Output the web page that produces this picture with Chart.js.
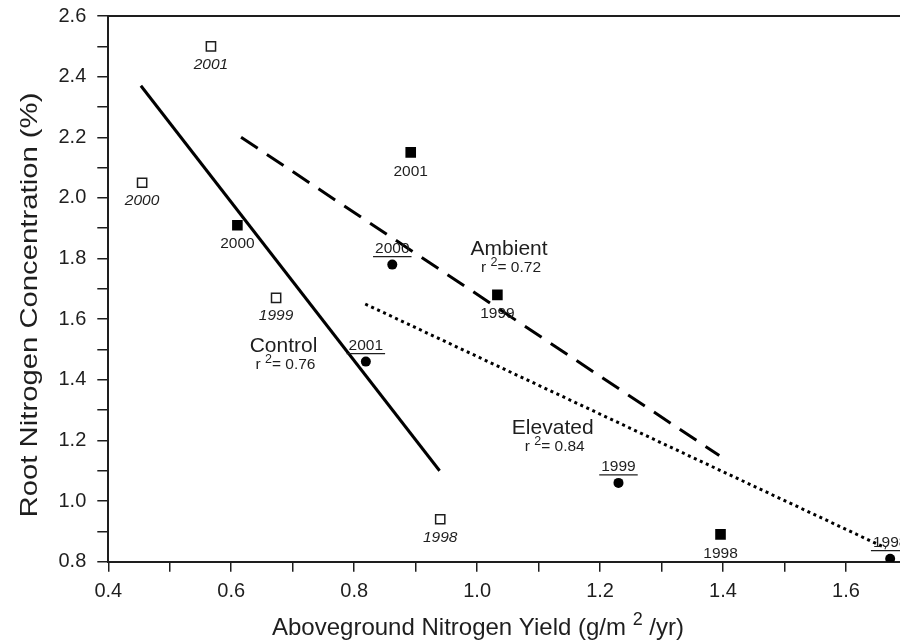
<!DOCTYPE html>
<html>
<head>
<meta charset="utf-8">
<script src="https://cdn.jsdelivr.net/npm/chart.js@4.4.0/dist/chart.umd.min.js"></script>
<style>
  html, body { margin: 0; padding: 0; background: #fff; }
  #wrap { width: 900px; height: 643px; }
</style>
</head>
<body>
<div id="wrap"><canvas id="nChart"></canvas></div>
<script>
/* ---------- data ---------- */
const years = ['1998', '1999', '2000', '2001'];

const controlX  = [0.940, 0.673, 0.455, 0.567];
const controlY  = [0.94, 1.67, 2.05, 2.50];
const ambientX  = [1.396, 1.033, 0.610, 0.892];
const ambientY  = [0.89, 1.68, 1.91, 2.15];
const elevatedX = [1.672, 1.230, 0.862, 0.819];
const elevatedY = [0.81, 1.06, 1.78, 1.46];

// regression lines (end points)
const controlFitX  = [0.453, 0.939];
const controlFitY  = [2.37, 1.10];
const ambientFitX  = [0.616, 1.394];
const ambientFitY  = [2.20, 1.15];
const elevatedFitX = [0.818, 1.665];
const elevatedFitY = [1.65, 0.845];

// line labels
const fitNames = ['Control', 'Ambient', 'Elevated'];
const fitR2    = ['0.76', '0.72', '0.84'];
const fitLabelX = [0.685, 1.052, 1.123];
const fitLabelY = [1.51, 1.83, 1.24];

const xMin = 0.4, xMax = 1.688;
const yMin = 0.8, yMax = 2.6;

const xTitle = ['Aboveground Nitrogen Yield (g/m ', '2', ' /yr)'];
const yTitle = 'Root Nitrogen Concentration (%)';

/* ---------- helpers ---------- */
const FONT = "'Liberation Sans', Arial, sans-serif";
const INK = '#1e1e1e';
const pts = (xs, ys) => xs.map((x, i) => ({ x: x, y: ys[i] }));

// draw text pieces [text, size, raise] centred on cx
function drawPieces(ctx, pieces, cx, cy) {
  let total = 0;
  pieces.forEach(p => { ctx.font = p[1] + 'px ' + FONT; total += ctx.measureText(p[0]).width; });
  let x = cx - total / 2;
  ctx.textAlign = 'left';
  pieces.forEach(p => {
    ctx.font = p[1] + 'px ' + FONT;
    ctx.fillText(p[0], x, cy - p[2]);
    x += ctx.measureText(p[0]).width;
  });
}

/* ---------- annotation plugin ---------- */
const annotations = {
  id: 'annotations',
  afterDatasetsDraw(chart) {
    const ctx = chart.ctx;
    const area = chart.chartArea;
    const xs = chart.scales.x, ys = chart.scales.y;
    ctx.save();

    // top frame line
    ctx.strokeStyle = INK;
    ctx.lineWidth = 2;
    ctx.beginPath();
    ctx.moveTo(area.left, area.top);
    ctx.lineTo(chart.width, area.top);
    ctx.stroke();

    ctx.fillStyle = INK;
    ctx.textBaseline = 'middle';
    ctx.textAlign = 'center';

    // control: italic years below
    ctx.font = 'italic 15.5px ' + FONT;
    chart.getDatasetMeta(0).data.forEach((el, i) => {
      ctx.fillText(years[i], el.x, el.y + 18);
    });
    // ambient: years below
    ctx.font = '15.5px ' + FONT;
    chart.getDatasetMeta(1).data.forEach((el, i) => {
      ctx.fillText(years[i], el.x, el.y + 19);
    });
    // elevated: underlined years above
    chart.getDatasetMeta(2).data.forEach((el, i) => {
      ctx.textAlign = 'center';
      ctx.fillText(years[i], el.x, el.y - 16);
      const w = ctx.measureText(years[i]).width + 4;
      ctx.lineWidth = 1.2;
      ctx.beginPath();
      ctx.moveTo(el.x - w / 2, el.y - 8);
      ctx.lineTo(el.x + w / 2, el.y - 8);
      ctx.stroke();
    });

    // fit names and r2
    fitNames.forEach((name, i) => {
      const cx = xs.getPixelForValue(fitLabelX[i]);
      const cy = ys.getPixelForValue(fitLabelY[i]);
      ctx.textAlign = 'center';
      ctx.font = '21px ' + FONT;
      ctx.fillText(name, cx, cy);
      drawPieces(ctx, [['r ', 15.5, 0], ['2', 12.5, 5], ['= ' + fitR2[i], 15.5, 0]], cx + 2, cy + 18);
    });

    // axis titles
    drawPieces(ctx, [[xTitle[0], 24, 0], [xTitle[1], 18, 8], [xTitle[2], 24, 0]], 478, 628);
    ctx.translate(30, 305);
    ctx.rotate(-Math.PI / 2);
    ctx.scale(1.22, 1);
    ctx.textAlign = 'center';
    ctx.font = '24px ' + FONT;
    ctx.fillText(yTitle, 0, 0);
    ctx.restore();
  }
};

/* ---------- chart ---------- */
const tickLabel = v => (Math.round(v * 10) % 2 === 0 ? v.toFixed(1) : '');

new Chart(document.getElementById('nChart'), {
  type: 'scatter',
  data: {
    datasets: [
      { label: 'Control', data: pts(controlX, controlY), pointStyle: 'rect', pointRadius: 6.5,
        backgroundColor: '#fff', borderColor: INK, borderWidth: 1.5 },
      { label: 'Ambient', data: pts(ambientX, ambientY), pointStyle: 'rect', pointRadius: 7.5,
        backgroundColor: '#000', borderColor: '#000', borderWidth: 0 },
      { label: 'Elevated', data: pts(elevatedX, elevatedY), pointStyle: 'circle', pointRadius: 5,
        backgroundColor: '#000', borderColor: '#000', borderWidth: 0 },
      { type: 'line', data: pts(controlFitX, controlFitY), borderColor: '#000', borderWidth: 3,
        pointRadius: 0, fill: false },
      { type: 'line', data: pts(ambientFitX, ambientFitY), borderColor: '#000', borderWidth: 3,
        borderDash: [20, 11], pointRadius: 0, fill: false },
      { type: 'line', data: pts(elevatedFitX, elevatedFitY), borderColor: '#000', borderWidth: 3,
        borderDash: [3, 3.6], pointRadius: 0, fill: false }
    ]
  },
  options: {
    responsive: true,
    maintainAspectRatio: false,
    animation: false,
    layout: { autoPadding: false, padding: { top: 16, right: 0, left: 0, bottom: 0 } },
    plugins: { legend: { display: false }, tooltip: { enabled: false } },
    scales: {
      x: {
        type: 'linear', min: xMin, max: xMax,
        afterFit: s => { s.height = 81.3; s.paddingRight = 0; s.paddingLeft = 0; },
        border: { color: INK, width: 2 },
        grid: { drawOnChartArea: false, tickLength: 10, color: INK, lineWidth: 1.5 },
        ticks: { stepSize: 0.1, includeBounds: false, autoSkip: false, maxRotation: 0,
          padding: 8, color: INK, font: { family: FONT, size: 20 }, callback: tickLabel }
      },
      y: {
        type: 'linear', min: yMin, max: yMax,
        afterFit: s => { s.width = 108.3; s.paddingTop = 0; s.paddingBottom = 0; },
        border: { color: INK, width: 2 },
        grid: { drawOnChartArea: false, tickLength: 11, color: INK, lineWidth: 1.5 },
        ticks: { stepSize: 0.1, autoSkip: false, padding: 11, color: INK,
          font: { family: FONT, size: 20 }, callback: tickLabel }
      }
    }
  },
  plugins: [annotations]
});
</script>
</body>
</html>
